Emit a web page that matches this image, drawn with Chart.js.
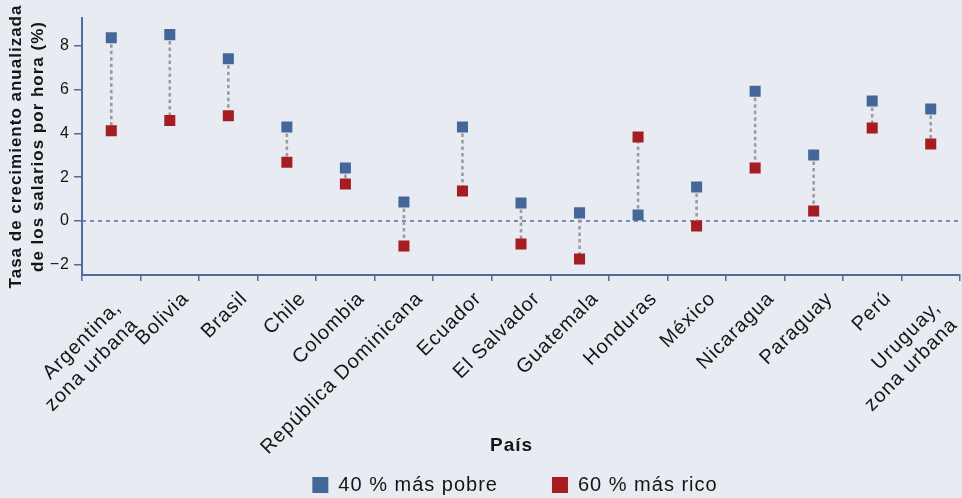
<!DOCTYPE html>
<html>
<head>
<meta charset="utf-8">
<script src="https://cdn.jsdelivr.net/npm/chart.js@4/dist/chart.umd.min.js"></script>
<style>
  html,body{margin:0;padding:0;background:#e8ebf2;}
  #wrap{width:962px;height:498px;}
</style>
</head>
<body>
<div id="wrap"><canvas id="gap"></canvas></div>
<script>
// ── data ─────────────────────────────────────────────────────────────────────
const PAISES = [
  ['Argentina,  ','zona urbana  '],'Bolivia','Brasil','Chile','Colombia',
  'República Dominicana','Ecuador','El Salvador','Guatemala','Honduras',
  'México','Nicaragua','Paraguay','Perú',['Uruguay,  ','zona urbana  ']
];
const POBRE_40 = [8.38, 8.52, 7.42, 4.30, 2.42, 0.87, 4.30, 0.82, 0.37, 0.27, 1.55, 5.93, 3.02, 5.49, 5.12];
const RICO_60  = [4.13, 4.59, 4.81, 2.68, 1.69, -1.14, 1.37, -1.05, -1.74, 3.84, -0.23, 2.42, 0.46, 4.25, 3.52];
const Y_MIN = -2.47, Y_MAX = 9.28, Y_STEP = 2;

const BLUE = '#44679a';
const RED  = '#a61c23';
const AXIS = '#4d6d9b';
const INK  = '#151515';

Chart.defaults.font.family = "'Liberation Sans', Arial, sans-serif";

// wide tracking like the printed figure
const tracking = {
  id:'tracking',
  beforeUpdate(c){ c.ctx.letterSpacing='1px'; },
  beforeLayout(c){ c.ctx.letterSpacing='1px'; },
  afterLayout(c){
    // let the rotated labels run down past the legend row (scale labels are clipped to the scale box)
    c.scales.x.bottom = c.height;
    c.legend.left -= 6; c.legend.right -= 6;
  },
  beforeDraw(c){ c.ctx.letterSpacing='1px'; }
};

// dotted zero line + dotted connector between the two groups
const connectors = {
  id:'connectors',
  beforeDatasetsDraw(c){
    const {ctx, chartArea:a, scales:{y}} = c;
    const m0 = c.getDatasetMeta(0).data, m1 = c.getDatasetMeta(1).data;
    ctx.save();
    ctx.strokeStyle = AXIS; ctx.lineWidth = 1.5; ctx.setLineDash([4,4]);
    const y0 = y.getPixelForValue(0);
    ctx.beginPath(); ctx.moveTo(a.left, y0); ctx.lineTo(a.right, y0); ctx.stroke();
    ctx.strokeStyle = '#9c9c9c'; ctx.lineWidth = 2.6; ctx.setLineDash([3.5,3]);
    m0.forEach((p,i)=>{
      const q = m1[i]; if(!q) return;
      ctx.beginPath(); ctx.moveTo(p.x, p.y); ctx.lineTo(q.x, q.y); ctx.stroke();
    });
    ctx.restore();
  }
};

new Chart(document.getElementById('gap'),{
  type:'line',
  data:{labels:PAISES,datasets:[
    {label:'40 % más pobre', data:POBRE_40, showLine:false, backgroundColor:BLUE, borderColor:BLUE, borderWidth:0,
     pointStyle:'rect', pointRadius:7.8, pointHoverRadius:7.8, pointBorderWidth:0},
    {label:'60 % más rico', data:RICO_60, showLine:false, backgroundColor:RED, borderColor:RED, borderWidth:0,
     pointStyle:'rect', pointRadius:7.8, pointHoverRadius:7.8, pointBorderWidth:0}
  ]},
  options:{
    responsive:true, maintainAspectRatio:false, animation:false,
    layout:{autoPadding:false, padding:{top:18,right:2,bottom:0,left:0}},
    plugins:{
      tooltip:{enabled:false},
      legend:{position:'bottom', fullSize:false, maxHeight:77,
        labels:{color:INK, font:{size:20}, boxWidth:16, boxHeight:16, padding:54}}
    },
    scales:{
      x:{
        offset:true,
        grid:{offset:true, drawOnChartArea:false, tickLength:6, color:AXIS, lineWidth:1.5},
        border:{color:AXIS, width:2},
        ticks:{color:INK, font:{size:20}, autoSkip:false, maxRotation:45, minRotation:45, padding:6, labelOffset:16},
        // bottom is moved to the canvas edge after layout, so the title offset is measured from there
        title:{display:true, text:'País   ', color:INK, font:{size:19, weight:'bold'}, padding:{top:0,bottom:41}},
        afterFit(s){ s.height = 146; s.paddingRight = 0; s.paddingLeft = 0; }
      },
      y:{
        min:Y_MIN, max:Y_MAX,
        grid:{drawOnChartArea:false, tickLength:8, color:AXIS, lineWidth:1.5},
        border:{color:AXIS, width:2},
        ticks:{stepSize:Y_STEP, includeBounds:false, color:INK, font:{size:16}, padding:4,
          callback:v=>v<0?'\u2212'+Math.abs(v):v},
        title:{display:true, text:['Tasa de crecimiento anualizada','de los salarios por hora (%)'],
          color:INK, font:{size:17, weight:'bold', lineHeight:1.3}, padding:{top:5,bottom:0}},
        afterFit(s){ s.width = 82; }
      }
    }
  },
  plugins:[tracking, connectors]
});
</script>
</body>
</html>
